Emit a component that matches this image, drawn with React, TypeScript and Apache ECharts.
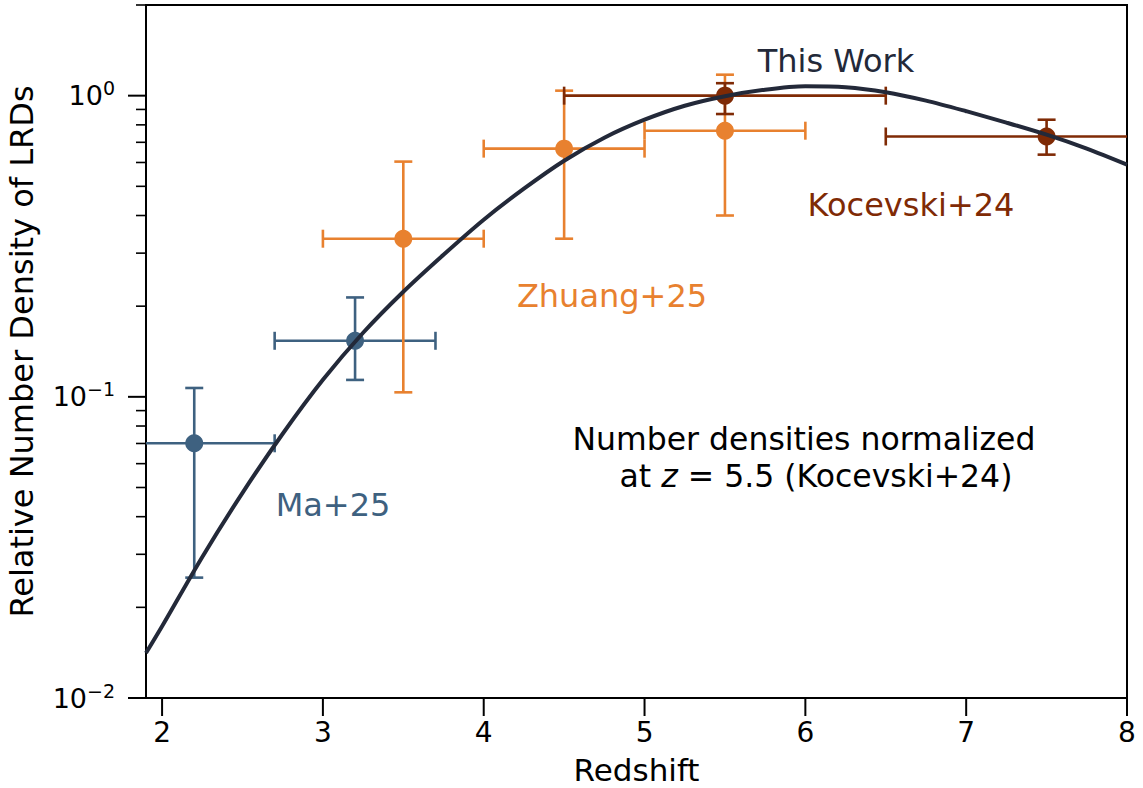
import React, { useEffect, useRef } from 'react';
import * as echarts from 'echarts';

const FONT = "'DejaVu Sans', sans-serif";

const X_MIN = 1.9;
const X_MAX = 8;
const Y_MIN = 0.01;
const Y_MAX = 2;

const xTicks = [2, 3, 4, 5, 6, 7, 8];
const yMajorTicks = [0.01, 0.1, 1];
const yMajorExponents = ['−2', '−1', '0'];
const yMinorTicks = [0.02, 0.03, 0.04, 0.05, 0.06, 0.07, 0.08, 0.09, 0.2, 0.3, 0.4, 0.5, 0.6, 0.7, 0.8, 0.9, 2];

// "This Work" curve
const curveZ = [1.9, 2.0, 2.25, 2.5, 2.75, 3.0, 3.25, 3.5, 3.75, 4.0, 4.25, 4.5, 4.75, 5.0, 5.25, 5.5, 5.75, 6.0, 6.25, 6.5, 6.75, 7.0, 7.25, 7.5, 7.75, 8.0];
const curveN = [0.0141, 0.0173, 0.0294, 0.048, 0.0754, 0.1139, 0.1632, 0.2233, 0.2963, 0.3873, 0.491, 0.608, 0.725, 0.832, 0.926, 0.996, 1.047, 1.075, 1.067, 1.027, 0.963, 0.888, 0.814, 0.742, 0.667, 0.59];

// Ma+25
const maZ = [2.2, 3.2];
const maN = [0.0701, 0.1535];
const maZLo = [1.7, 2.7];
const maZHi = [2.7, 3.7];
const maNLo = [0.0251, 0.1138];
const maNHi = [0.107, 0.2138];

// Zhuang+25
const zhZ = [3.5, 4.5, 5.5];
const zhN = [0.335, 0.667, 0.765];
const zhZLo = [3.0, 4.0, 5.0];
const zhZHi = [4.0, 5.0, 6.0];
const zhNLo = [0.1035, 0.335, 0.4];
const zhNHi = [0.604, 1.039, 1.174];

// Kocevski+24
const koZ = [5.5, 7.5];
const koN = [1.0, 0.732];
const koZLo = [4.5, 6.5];
const koZHi = [6.5, 8.5];
const koNLo = [0.869, 0.637];
const koNHi = [1.1, 0.832];

const C_MA = '#3e6180';
const C_ZH = '#e8812f';
const C_KO = '#7f2a05';
const C_CURVE = '#232939';

function errData(z: number[], n: number[], zl: number[], zh: number[], nl: number[], nh: number[]) {
  return z.map((v, i) => [v, n[i], zl[i], zh[i], nl[i], nh[i]]);
}

function errRender(color: string) {
  return (params: any, api: any) => {
    const z = api.value(0);
    const n = api.value(1);
    const pL = api.coord([api.value(2), n]);
    const pR = api.coord([api.value(3), n]);
    const pB = api.coord([z, api.value(4)]);
    const pT = api.coord([z, api.value(5)]);
    const c = 9;
    const style = { stroke: color, lineWidth: 2.6, fill: null };
    const ln = (x1: number, y1: number, x2: number, y2: number) => ({
      type: 'line',
      shape: { x1, y1, x2, y2 },
      style,
    });
    return {
      type: 'group',
      children: [
        ln(pL[0], pL[1], pR[0], pR[1]),
        ln(pB[0], pB[1], pT[0], pT[1]),
        ln(pL[0], pL[1] - c, pL[0], pL[1] + c),
        ln(pR[0], pR[1] - c, pR[0], pR[1] + c),
        ln(pB[0] - c, pB[1], pB[0] + c, pB[1]),
        ln(pT[0] - c, pT[1], pT[0] + c, pT[1]),
      ],
    };
  };
}

export default function App() {
  const ref = useRef<HTMLDivElement>(null);

  useEffect(() => {
    document.body.style.margin = '0';
    if (!ref.current) return;
    const chart = echarts.init(ref.current, null, { renderer: 'svg' });

    const errSeries = (name: string, color: string, data: number[][]) => ({
      name: name + ' err',
      type: 'custom',
      coordinateSystem: 'cartesian2d',
      clip: true,
      silent: true,
      renderItem: errRender(color),
      data,
      encode: { x: 0, y: 1 },
    });
    const markerSeries = (name: string, color: string, z: number[], n: number[]) => ({
      name,
      type: 'scatter',
      symbol: 'circle',
      symbolSize: 18,
      itemStyle: { color, opacity: 1 },
      data: z.map((v, i) => [v, n[i]]),
      silent: true,
    });

    const option: any = {
      animation: false,
      backgroundColor: '#ffffff',
      grid: {
        left: 146,
        right: 16,
        top: 5,
        bottom: 90,
        containLabel: false,
        outerBoundsMode: 'none',
        show: true,
        borderColor: '#000',
        borderWidth: 2,
        backgroundColor: 'transparent',
      },
      xAxis: {
        type: 'value',
        min: X_MIN,
        max: X_MAX,
        name: 'Redshift',
        nameLocation: 'middle',
        nameGap: 56,
        nameTextStyle: { fontFamily: FONT, fontSize: 31, color: '#000' },
        axisLine: { show: false },
        axisTick: { show: false },
        axisLabel: { show: false },
        splitLine: { show: false },
      },
      yAxis: {
        type: 'log',
        logBase: 10,
        min: Y_MIN,
        max: Y_MAX,
        name: 'Relative Number Density of LRDs',
        nameLocation: 'middle',
        nameGap: 108,
        nameTextStyle: { fontFamily: FONT, fontSize: 32, color: '#000' },
        axisLine: { show: false },
        axisTick: { show: false },
        axisLabel: { show: false },
        splitLine: { show: false },
        minorTick: { show: false },
      },
      series: [
        {
          name: 'This Work',
          type: 'line',
          data: curveZ.map((z, i) => [z, curveN[i]]),
          smooth: 0.3,
          showSymbol: false,
          symbol: 'none',
          lineStyle: { color: C_CURVE, width: 4 },
          silent: true,
        },
        errSeries('Ma+25', C_MA, errData(maZ, maN, maZLo, maZHi, maNLo, maNHi)),
        markerSeries('Ma+25', C_MA, maZ, maN),
        errSeries('Zhuang+25', C_ZH, errData(zhZ, zhN, zhZLo, zhZHi, zhNLo, zhNHi)),
        markerSeries('Zhuang+25', C_ZH, zhZ, zhN),
        errSeries('Kocevski+24', C_KO, errData(koZ, koN, koZLo, koZHi, koNLo, koNHi)),
        markerSeries('Kocevski+24', C_KO, koZ, koN),
        // y major ticks + labels
        {
          type: 'custom',
          coordinateSystem: 'cartesian2d',
          clip: false,
          silent: true,
          data: yMajorTicks.map((v) => [X_MIN, v]),
          encode: { x: 0, y: 1 },
          renderItem: (params: any, api: any) => {
            const p = api.coord([api.value(0), api.value(1)]);
            const exp = yMajorExponents[params.dataIndex];
            return {
              type: 'group',
              children: [
                { type: 'line', shape: { x1: p[0] - 18, y1: p[1], x2: p[0], y2: p[1] }, style: { stroke: '#000', lineWidth: 2 } },
                {
                  type: 'text',
                  x: p[0] - 31,
                  y: p[1],
                  style: {
                    text: `{a|10}{b|${exp}}`,
                    align: 'right',
                    verticalAlign: 'middle',
                    rich: {
                      a: { fontFamily: FONT, fontSize: 27, lineHeight: 34, fill: '#000' },
                      b: { fontFamily: FONT, fontSize: 19, lineHeight: 18, verticalAlign: 'top', fill: '#000' },
                    },
                  },
                },
              ],
            };
          },
        },
        // y minor ticks
        {
          type: 'custom',
          coordinateSystem: 'cartesian2d',
          clip: false,
          silent: true,
          data: yMinorTicks.map((v) => [X_MIN, v]),
          encode: { x: 0, y: 1 },
          renderItem: (params: any, api: any) => {
            const p = api.coord([api.value(0), api.value(1)]);
            return { type: 'line', shape: { x1: p[0] - 10, y1: p[1], x2: p[0], y2: p[1] }, style: { stroke: '#000', lineWidth: 1.6 } };
          },
        },
        // x ticks + labels
        {
          type: 'custom',
          coordinateSystem: 'cartesian2d',
          clip: false,
          silent: true,
          data: xTicks.map((v) => [v, Y_MIN]),
          encode: { x: 0, y: 1 },
          renderItem: (params: any, api: any) => {
            const p = api.coord([api.value(0), api.value(1)]);
            return {
              type: 'group',
              children: [
                { type: 'line', shape: { x1: p[0], y1: p[1], x2: p[0], y2: p[1] + 18 }, style: { stroke: '#000', lineWidth: 2 } },
                {
                  type: 'text',
                  x: p[0],
                  y: p[1] + 20,
                  style: { text: String(xTicks[params.dataIndex]), align: 'center', verticalAlign: 'top', fontFamily: FONT, fontSize: 28, fill: '#000' },
                },
              ],
            };
          },
        },
      ],
      graphic: [
        { type: 'text', x: 836, y: 61, style: { text: 'This Work', fontFamily: FONT, fontSize: 32, fill: C_CURVE, align: 'center', verticalAlign: 'middle' } },
        { type: 'text', x: 911, y: 205, style: { text: 'Kocevski+24', fontFamily: FONT, fontSize: 32, fill: C_KO, align: 'center', verticalAlign: 'middle' } },
        { type: 'text', x: 612, y: 296, style: { text: 'Zhuang+25', fontFamily: FONT, fontSize: 32, fill: C_ZH, align: 'center', verticalAlign: 'middle' } },
        { type: 'text', x: 333, y: 505, style: { text: 'Ma+25', fontFamily: FONT, fontSize: 32, fill: C_MA, align: 'center', verticalAlign: 'middle' } },
        { type: 'text', x: 804, y: 439, style: { text: 'Number densities normalized', fontFamily: FONT, fontSize: 31.5, fill: '#000', align: 'center', verticalAlign: 'middle' } },
        {
          type: 'text',
          x: 816,
          y: 476,
          style: {
            text: '{n|at }{i|z}{n| = 5.5 (Kocevski+24)}',
            align: 'center',
            verticalAlign: 'middle',
            rich: {
              n: { fontFamily: FONT, fontSize: 31.5, fill: '#000' },
              i: { fontFamily: FONT, fontSize: 31.5, fontStyle: 'italic', fill: '#000' },
            },
          },
        },
      ],
    };

    chart.setOption(option);
    return () => chart.dispose();
  }, []);

  return <div ref={ref} style={{ width: 1143, height: 788 }} />;
}
